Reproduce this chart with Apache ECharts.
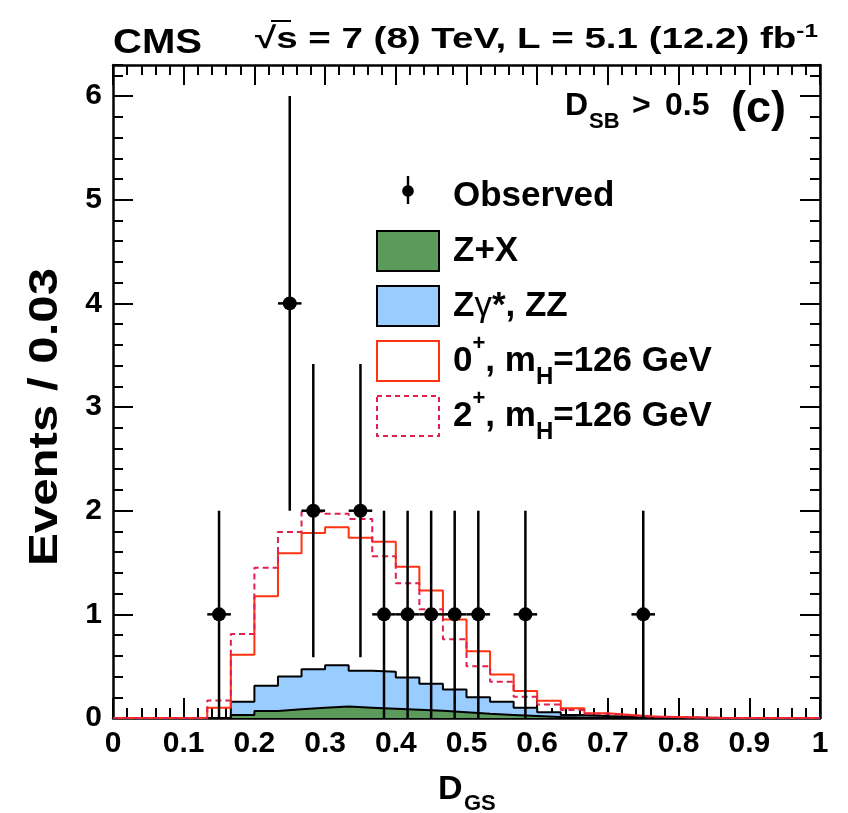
<!DOCTYPE html>
<html>
<head>
<meta charset="utf-8">
<script src="https://cdn.jsdelivr.net/npm/echarts@6/dist/echarts.min.js"></script>
<style>
  html, body { margin: 0; padding: 0; background: #ffffff; }
  #chart { width: 848px; height: 813px; }
</style>
</head>
<body>
<div id="chart"></div>
<script>
// Binning of the D_GS discriminant: 30 bins on [0, 1]
const nBins = 30;
const binWidth = 1 / nBins;

// Expected events per bin (as drawn)
const zxCounts  = [0, 0, 0, 0, 0, 0.03, 0.067, 0.084, 0.10, 0.11, 0.10, 0.09, 0.08, 0.07, 0.055,
                   0.04, 0.03, 0.02, 0.01, 0.006, 0.004, 0.002, 0, 0, 0, 0, 0, 0, 0, 0];
const zzCounts  = [0, 0, 0, 0, 0, 0.127, 0.243, 0.316, 0.37, 0.40, 0.355, 0.356, 0.31, 0.26, 0.221,
                   0.16, 0.127, 0.08, 0.045, 0.024, 0.016, 0.01, 0.008, 0.005, 0.003, 0, 0, 0, 0, 0];
const spin0Total = [0, 0, 0, 0, 0.10, 0.61, 1.175, 1.59, 1.785, 1.84, 1.74, 1.70, 1.46, 1.23, 0.95,
                    0.645, 0.42, 0.26, 0.167, 0.093, 0.045, 0.03, 0.015, 0.01, 0.005, 0, 0, 0, 0, 0];
const spin2Total = [0, 0, 0, 0, 0.17, 0.81, 1.45, 1.795, 1.99, 1.97, 1.92, 1.56, 1.30, 1.05, 0.76,
                    0.50, 0.35, 0.205, 0.13, 0.077, 0.04, 0.025, 0.012, 0.008, 0.004, 0, 0, 0, 0, 0];

// Observed events: bin centres and counts
const obsCenters = [0.15, 0.25, 0.2833, 0.35, 0.3833, 0.4167, 0.45, 0.4833, 0.5167, 0.5833, 0.75];
const obsCounts  = [1, 4, 2, 2, 1, 1, 1, 1, 1, 1, 1];

// Axis ranges and tick spacing
const xRange = [0, 1];
const yRange = [0, 6.3];
const xMajor = 0.1, xMinor = 0.02;
const yMajor = 1, yMinor = 0.2;

const FONT = '"Liberation Sans", Arial, Helvetica, sans-serif';
const C_ZX = '#5b9a5b';
const C_ZZ = '#99ccff';
const C_SPIN0 = '#ff3311';
const C_SPIN2 = '#e0204f';

// histogram contour points for a step line
function histSteps(vals) {
  const pts = vals.map((v, k) => [k * binWidth, v]);
  pts.push([nBins * binWidth, vals[nBins - 1]]);
  return pts;
}
const bkgTotal = zzCounts.map((v, k) => v + zxCounts[k]);

function textWidth(str, size, weight) {
  const ctx = document.createElement('canvas').getContext('2d');
  ctx.font = (weight || 'bold') + ' ' + size + 'px ' + FONT;
  return ctx.measureText(str).width;
}

function valueAxis(range, interval, position, major, showLabels) {
  return {
    type: 'value',
    min: range[0], max: range[1], interval: interval,
    position: position,
    axisLine: { show: major, onZero: false, lineStyle: { color: '#000', width: 2.5 } },
    axisTick: { show: true, inside: true, length: major ? 20 : 10, lineStyle: { color: '#000', width: 2 } },
    axisLabel: {
      show: showLabels, color: '#000', fontSize: 30, fontWeight: 'bold', fontFamily: FONT,
      margin: 11, showMaxLabel: range[1] === 1
    },
    splitLine: { show: false },
    minorTick: { show: false }
  };
}

const chart = echarts.init(document.getElementById('chart'), null, { renderer: 'canvas' });

const legendNames = {
  'Observed': 'Observed',
  'Z+X': 'Z+X',
  'ZZ': 'Z{g|γ}*, ZZ',
  'spin0': '0{sup|+}, m{sub|H}=126 GeV',
  'spin2': '2{sup|+}, m{sub|H}=126 GeV'
};

// observed-point legend glyph in a 62x40 box: corner specks fix the box, then bar and round dot
const obsIcon = 'path://M0,0 h0.01 v0.01 h-0.01 z M61.99,39.99 h0.01 v0.01 h-0.01 z ' +
                'M29.8,0 h2.4 v28 h-2.4 z ' +
                'M36.8,15 C36.8,18.2 34.2,20.8 31,20.8 C27.8,20.8 25.2,18.2 25.2,15 ' +
                'C25.2,11.8 27.8,9.2 31,9.2 C34.2,9.2 36.8,11.8 36.8,15 z';

const titleMain = '√s = 7 (8) TeV, L = 5.1 (12.2) fb';
const titleScale = 563 / (textWidth(titleMain, 30) + textWidth('-1', 19));
const cmsScale = 89 / textWidth('CMS', 35);
const yTitle = 'Events / 0.03';
const yTitleScale = 298 / textWidth(yTitle, 40);

const option = {
  animation: false,
  backgroundColor: '#ffffff',
  grid: { left: 113, right: 28, top: 65, bottom: 95, containLabel: false },
  xAxis: [
    valueAxis(xRange, xMajor, 'bottom', true, true),
    valueAxis(xRange, xMinor, 'bottom', false, false),
    valueAxis(xRange, xMajor, 'top', true, false),
    valueAxis(xRange, xMinor, 'top', false, false)
  ],
  yAxis: [
    valueAxis(yRange, yMajor, 'left', true, true),
    valueAxis(yRange, yMinor, 'left', false, false),
    valueAxis(yRange, yMajor, 'right', true, false),
    valueAxis(yRange, yMinor, 'right', false, false)
  ],
  legend: {
    orient: 'vertical',
    left: 376, top: 168, padding: 0,
    itemWidth: 62, itemHeight: 40, itemGap: -1,
    selectedMode: false,
    symbolKeepAspect: true,
    formatter: name => legendNames[name],
    textStyle: {
      fontSize: 35, fontWeight: 'bold', fontFamily: FONT, color: '#000',
      lineHeight: 56, padding: [0, 0, 0, 9],
      rich: {
        sup: { fontSize: 22, fontWeight: 'bold', fontFamily: FONT, color: '#000', lineHeight: 36, verticalAlign: 'top' },
        sub: { fontSize: 24, fontWeight: 'bold', fontFamily: FONT, color: '#000', lineHeight: 24, verticalAlign: 'bottom' },
        g: { fontSize: 35, fontWeight: 'normal', fontFamily: FONT, color: '#000' }
      }
    },
    data: [
      { name: 'Observed', icon: obsIcon, itemStyle: { color: '#000', borderWidth: 0 } },
      { name: 'Z+X', icon: 'rect', itemStyle: { color: C_ZX, borderColor: '#000', borderWidth: 2 } },
      { name: 'ZZ', icon: 'rect', itemStyle: { color: C_ZZ, borderColor: '#000', borderWidth: 2 } },
      { name: 'spin0', icon: 'rect', itemStyle: { color: '#fff', borderColor: C_SPIN0, borderWidth: 2 } },
      { name: 'spin2', icon: 'rect', itemStyle: { color: '#fff', borderColor: C_SPIN2, borderWidth: 2, borderType: [5, 4] } }
    ]
  },
  series: [
    {
      name: 'ZZ', type: 'line', step: 'end', data: histSteps(bkgTotal),
      xAxisIndex: 0, yAxisIndex: 0, symbol: 'none', z: 2,
      itemStyle: { color: C_ZZ },
      lineStyle: { color: '#000', width: 2 },
      areaStyle: { color: C_ZZ, opacity: 1 }
    },
    {
      name: 'Z+X', type: 'line', step: 'end', data: histSteps(zxCounts),
      xAxisIndex: 0, yAxisIndex: 0, symbol: 'none', z: 3,
      itemStyle: { color: C_ZX },
      lineStyle: { color: '#000', width: 2 },
      areaStyle: { color: C_ZX, opacity: 1 }
    },
    {
      name: 'spin0', type: 'line', step: 'end', data: histSteps(spin0Total),
      xAxisIndex: 0, yAxisIndex: 0, symbol: 'none', z: 4,
      itemStyle: { color: C_SPIN0 },
      lineStyle: { color: C_SPIN0, width: 2 }
    },
    {
      name: 'spin2', type: 'line', step: 'end', data: histSteps(spin2Total),
      xAxisIndex: 0, yAxisIndex: 0, symbol: 'none', z: 4,
      itemStyle: { color: C_SPIN2 },
      lineStyle: { color: C_SPIN2, width: 2, type: [6, 4] }
    },
    {
      name: 'Observed', type: 'custom',
      xAxisIndex: 0, yAxisIndex: 0, z: 6,
      itemStyle: { color: '#000' },
      encode: { x: 0, y: 1 },
      data: obsCenters.map((x, i) => [x, obsCounts[i]]),
      renderItem: function (params, api) {
        const x = api.value(0);
        const n = api.value(1);
        const err = Math.sqrt(n);
        const c = api.coord([x, n]);
        const lo = api.coord([x, Math.max(n - err, 0)]);
        const hi = api.coord([x, n + err]);
        const l = api.coord([x - binWidth / 2, n]);
        const r = api.coord([x + binWidth / 2, n]);
        return {
          type: 'group',
          children: [
            { type: 'line', shape: { x1: c[0], y1: lo[1], x2: c[0], y2: hi[1] }, style: { stroke: '#000', lineWidth: 2.5 } },
            { type: 'line', shape: { x1: l[0], y1: c[1], x2: r[0], y2: c[1] }, style: { stroke: '#000', lineWidth: 2.5 } },
            { type: 'circle', shape: { cx: c[0], cy: c[1], r: 7 }, style: { fill: '#000' } }
          ]
        };
      }
    }
  ],
  graphic: [
    {
      type: 'text', x: 113, y: 43, scaleX: cmsScale, z: 10,
      style: { text: 'CMS', fontSize: 35, fontWeight: 'bold', fontFamily: FONT, fill: '#000', align: 'left', verticalAlign: 'middle' }
    },
    {
      type: 'text', x: 255, y: 40, scaleX: titleScale, z: 10,
      style: {
        text: titleMain + '{sup|-1}', fontSize: 30, fontWeight: 'bold', fontFamily: FONT, fill: '#000',
        align: 'left', verticalAlign: 'middle', lineHeight: 36,
        rich: { sup: { fontSize: 19, fontWeight: 'bold', fontFamily: FONT, fill: '#000', lineHeight: 16, verticalAlign: 'top' } }
      }
    },
    {
      // bar over the s of the square root
      type: 'line', z: 10,
      shape: { x1: 271, y1: 21, x2: 291, y2: 21 },
      style: { stroke: '#000', lineWidth: 2 }
    },
    {
      type: 'text', x: 565, y: 106, z: 10,
      style: { text: 'D', fontSize: 32, fontWeight: 'bold', fontFamily: FONT, fill: '#000', align: 'left', verticalAlign: 'middle' }
    },
    {
      type: 'text', x: 589, y: 122, z: 10,
      style: { text: 'SB', fontSize: 22, fontWeight: 'bold', fontFamily: FONT, fill: '#000', align: 'left', verticalAlign: 'middle' }
    },
    {
      type: 'text', x: 632, y: 106, z: 10,
      style: { text: '>', fontSize: 32, fontWeight: 'bold', fontFamily: FONT, fill: '#000', align: 'left', verticalAlign: 'middle' }
    },
    {
      type: 'text', x: 665, y: 106, z: 10,
      style: { text: '0.5', fontSize: 32, fontWeight: 'bold', fontFamily: FONT, fill: '#000', align: 'left', verticalAlign: 'middle' }
    },
    {
      type: 'text', x: 731, y: 110, z: 10,
      style: { text: '(c)', fontSize: 45, fontWeight: 'bold', fontFamily: FONT, fill: '#000', align: 'left', verticalAlign: 'middle' }
    },
    {
      type: 'text', x: 438, y: 790, z: 10,
      style: { text: 'D', fontSize: 34, fontWeight: 'bold', fontFamily: FONT, fill: '#000', align: 'left', verticalAlign: 'middle' }
    },
    {
      type: 'text', x: 464, y: 804, z: 10,
      style: { text: 'GS', fontSize: 22, fontWeight: 'bold', fontFamily: FONT, fill: '#000', align: 'left', verticalAlign: 'middle' }
    },
    {
      type: 'text', x: 46, y: 417, rotation: Math.PI / 2, scaleX: yTitleScale, z: 10,
      style: { text: yTitle, fontSize: 40, fontWeight: 'bold', fontFamily: FONT, fill: '#000', align: 'center', verticalAlign: 'middle' }
    }
  ]
};

chart.setOption(option);
</script>
</body>
</html>
